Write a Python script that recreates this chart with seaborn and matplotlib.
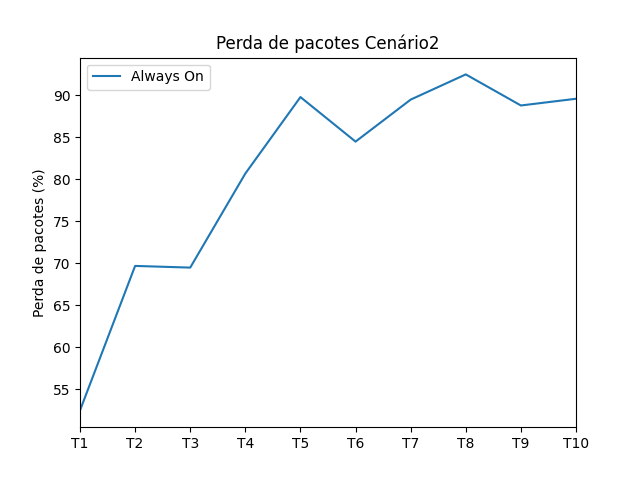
import numpy as np
import pandas as pd
import seaborn as sns
import matplotlib
matplotlib.use("Agg")
import matplotlib.pyplot as plt

# Dados
tempos = ['T1', 'T2', 'T3', 'T4', 'T5', 'T6', 'T7', 'T8', 'T9', 'T10']
perda = [52.5, 69.7, 69.5, 80.7, 89.8, 84.5, 89.5, 92.5, 88.8, 89.6]

df = pd.DataFrame({'x': np.arange(len(tempos)), 'perda': perda})

fig, ax = plt.subplots(figsize=(6.4, 4.8), dpi=100)
sns.lineplot(data=df, x='x', y='perda', ax=ax, label='Always On', color='#1f77b4')
ax.set_xticks(df['x'])
ax.set_xticklabels(tempos)
ax.set_xlim(0, len(tempos) - 1)
ax.set_xlabel('')
ax.set_ylabel('Perda de pacotes (%)')
ax.set_title('Perda de pacotes Cenário2')
ax.legend(loc='upper left')
plt.savefig('out.png')
